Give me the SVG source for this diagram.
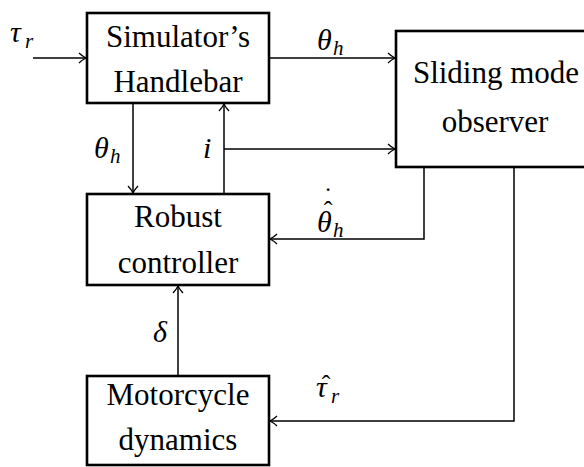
<svg xmlns="http://www.w3.org/2000/svg" width="584" height="467" viewBox="0 0 584 467">
<defs>
<marker id="arr" viewBox="-9 -6 10 12" refX="0" refY="0" markerWidth="10" markerHeight="12" markerUnits="userSpaceOnUse" orient="auto">
<path d="M-7,-5 C-4,-2 -1,-0.5 0,0 C-1,0.5 -4,2 -7,5" fill="none" stroke="#000" stroke-width="1.3"/>
</marker>
</defs>
<g id="connectors" fill="none" stroke="#000" stroke-width="1.5" marker-end="url(#arr)">
<path d="M33,58 H86"/>
<path d="M269,58 H395"/>
<path d="M133,103 V193"/>
<path d="M224,194 V104"/>
<path d="M224,149 H395"/>
<path d="M424,167 V239 H270"/>
<path d="M514,167 V421 H270"/>
<path d="M178,376 V286"/>
</g>
<text x="10" y="42" font-family="Liberation Serif" font-style="italic" font-size="30">τ</text>
<text x="25" y="48" font-family="Liberation Serif" font-style="italic" font-size="21">r</text>
<text x="317" y="50" font-family="Liberation Serif" font-style="italic" font-size="30">θ</text>
<text x="333" y="55" font-family="Liberation Serif" font-style="italic" font-size="21">h</text>
<text x="94" y="158" font-family="Liberation Serif" font-style="italic" font-size="30">θ</text>
<text x="110" y="163" font-family="Liberation Serif" font-style="italic" font-size="21">h</text>
<text x="203" y="158" font-family="Liberation Serif" font-style="italic" font-size="30">i</text>
<text x="328" y="219" font-family="Liberation Serif" font-size="26" text-anchor="middle">ˆ</text>
<text x="328" y="205" font-family="Liberation Serif" font-size="26" text-anchor="middle">˙</text>
<text x="317" y="232" font-family="Liberation Serif" font-style="italic" font-size="30">θ</text>
<text x="333" y="237" font-family="Liberation Serif" font-style="italic" font-size="21">h</text>
<text x="153" y="342" font-family="Liberation Serif" font-style="italic" font-size="30">δ</text>
<text x="326" y="393" font-family="Liberation Serif" font-size="26" text-anchor="middle">ˆ</text>
<text x="316" y="397" font-family="Liberation Serif" font-style="italic" font-size="30">τ</text>
<text x="331" y="403" font-family="Liberation Serif" font-style="italic" font-size="21">r</text>
<g id="handlebar">
<rect x="87" y="13" width="182" height="90" fill="#fff" stroke="#000" stroke-width="2.6"/>
<text x="178" y="47" font-family="Liberation Serif" font-size="31" text-anchor="middle">Simulator’s</text>
<text x="178" y="92" font-family="Liberation Serif" font-size="31" text-anchor="middle">Handlebar</text>
</g>
<g id="observer">
<rect x="396" y="31" width="200" height="136" fill="#fff" stroke="#000" stroke-width="2.6"/>
<text x="496" y="83" font-family="Liberation Serif" font-size="31" text-anchor="middle">Sliding mode</text>
<text x="495" y="132" font-family="Liberation Serif" font-size="31" text-anchor="middle">observer</text>
</g>
<g id="controller">
<rect x="87" y="194" width="182" height="91" fill="#fff" stroke="#000" stroke-width="2.6"/>
<text x="178" y="227" font-family="Liberation Serif" font-size="31" text-anchor="middle">Robust</text>
<text x="178" y="273" font-family="Liberation Serif" font-size="31" text-anchor="middle">controller</text>
</g>
<g id="dynamics">
<rect x="87" y="376" width="182" height="89" fill="#fff" stroke="#000" stroke-width="2.6"/>
<text x="178" y="405" font-family="Liberation Serif" font-size="31" text-anchor="middle">Motorcycle</text>
<text x="178" y="450" font-family="Liberation Serif" font-size="31" text-anchor="middle">dynamics</text>
</g>
</svg>
